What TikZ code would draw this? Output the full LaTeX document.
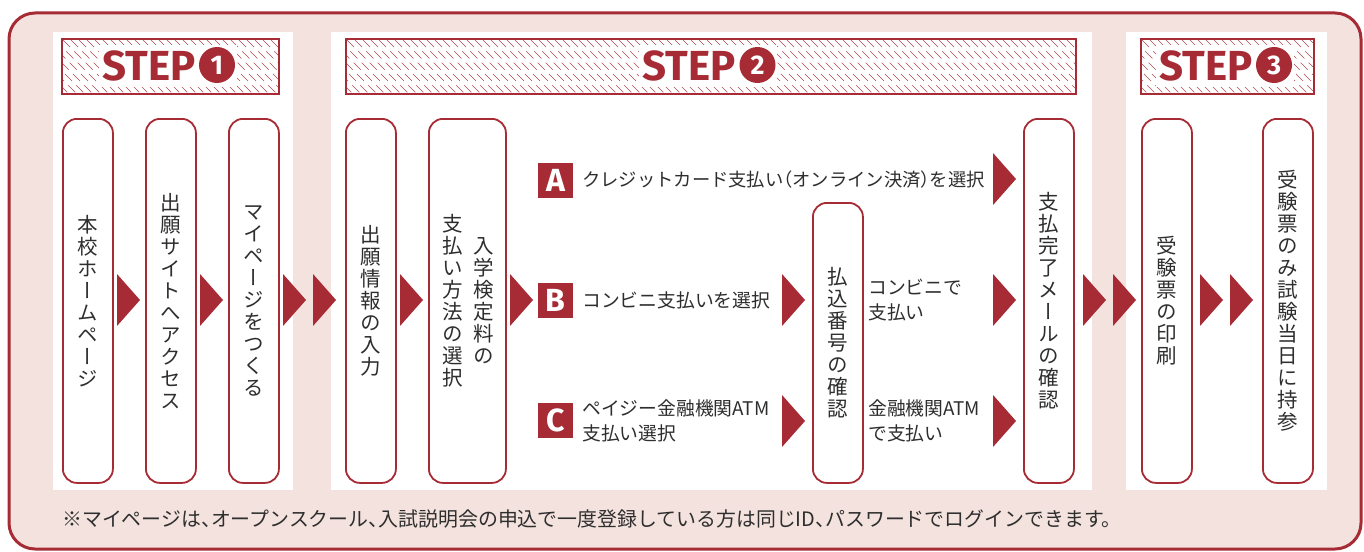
\documentclass[tikz,border=0pt]{standalone}
\usepackage{fontspec}
\newfontfamily\jp{Noto Sans CJK JP}
\newfontfamily\jpv{Noto Sans CJK JP}[RawFeature=+vert]
\newfontfamily\stepf{Fira Sans}
\definecolor{dred}{HTML}{A62B35}
\definecolor{pinkbg}{HTML}{F3E2DD}
\definecolor{tgray}{HTML}{2E2E2E}
\newcommand\lp{\makebox[0.5em][r]{（}}
\newcommand\rp{\makebox[0.5em][l]{）}}
\newcommand\tc{\makebox[0.5em][l]{、}}
\makeatletter
\newcommand\vstk[1]{\vbox{\baselineskip=22pt\lineskip=0pt\lineskiplimit=-100pt\@tfor\vc:=#1\do{\hbox to 22pt{\hss\vc\hss}}}}
\makeatother
\tikzset{
  chev/.pic={\fill[dred] (0,-26) -- (23,0) -- (0,26) -- cycle;},
  vbox/.style={draw=dred, line width=1.8pt, fill=white, rounded corners=14pt, inner sep=0pt, anchor=north west},
  vtxt/.style={inner sep=0pt, text=tgray, font=\jpv\fontsize{20.5}{22}\selectfont},
  hdr/.style={draw=dred, line width=2pt, inner sep=0pt, minimum height=55pt, anchor=north west},
  steptxt/.style={inner sep=0pt, text=dred, anchor=base west, font=\stepf\bfseries\fontsize{42}{42}\selectfont},
  stepnum/.style={circle, fill=dred, minimum size=36pt, inner sep=0pt, text=white, font=\stepf\bfseries\fontsize{27}{27}\selectfont},
  letbox/.style={fill=dred, minimum size=35pt, inner sep=0pt, text=white, font=\stepf\bfseries\fontsize{32}{32}\selectfont},
  htxt/.style={inner sep=0pt, anchor=west, text=tgray, align=left, font=\jp\fontsize{18.8}{25}\selectfont},
  hatch/.style={dred!85, line width=0.65pt, dash pattern=on 10pt off 6pt},
}
\newcommand\hatchbox[5]{% x0 y0 x1 y1 cx
  \begin{scope}
    \clip (#1,#2) rectangle (#3,#4);
    \foreach \i in {-70,-62,...,750} {\draw[hatch] (#1+\i,#2+2) -- ++(70,70);}
  \end{scope}
  \fill[white] (#5-71,45) rectangle (#5+67,87);
}
\begin{document}
\begin{tikzpicture}[x=1pt,y=-1pt]
\useasboundingbox (0,0) rectangle (1364,551);
% outer frame
\draw[dred, line width=3pt, fill=pinkbg, rounded corners=26pt] (9,13) rectangle (1361,549);
% panels
\fill[white] (53,32) rectangle (293,490);
\fill[white] (331,32) rectangle (1092,490);
\fill[white] (1126,32) rectangle (1327,490);
% headers
\hatchbox{61}{38}{278}{93}{169.5}
\hatchbox{345}{38}{1075}{93}{710}
\hatchbox{1140}{38}{1313}{93}{1226.5}
\node[hdr, minimum width=217pt] (h1) at (61,38) {};
\node[hdr, minimum width=730pt] (h2) at (345,38) {};
\node[hdr, minimum width=173pt] (h3) at (1140,38) {};
\node[steptxt] (s1) at (102,80) {STEP};
\node[stepnum] (n1) at (217,65) {1};
\node[steptxt] (s2) at (642.5,80) {STEP};
\node[stepnum] (n2) at (757.5,65) {2};
\node[steptxt] (s3) at (1159,80) {STEP};
\node[stepnum] (n3) at (1274,65) {3};
% vertical boxes
\node[vbox, minimum width=50pt, minimum height=364pt] (b1) at (62,118) {};
\node[vbox, minimum width=50pt, minimum height=364pt] (b2) at (145,118) {};
\node[vbox, minimum width=50pt, minimum height=364pt] (b3) at (228,118) {};
\node[vbox, minimum width=50pt, minimum height=364pt] (b4) at (345,118) {};
\node[vbox, minimum width=77pt, minimum height=364pt] (b5) at (428,118) {};
\node[vbox, minimum width=50pt, minimum height=280pt] (b6) at (812,202) {};
\node[vbox, minimum width=50pt, minimum height=364pt] (b7) at (1023,118) {};
\node[vbox, minimum width=50pt, minimum height=364pt] (b8) at (1141,118) {};
\node[vbox, minimum width=50pt, minimum height=364pt] (b9) at (1262,118) {};
\node[vtxt] (t1) at (b1.center) {\vstk{本校ホームページ}};
\node[vtxt] (t2) at (b2.center) {\vstk{出願サイトへアクセス}};
\node[vtxt] (t3) at (b3.center) {\vstk{マイページをつくる}};
\node[vtxt] (t4) at (b4.center) {\vstk{出願情報の入力}};
\node[vtxt] (t5a) at ([xshift=16pt]b5.center) {\vstk{入学検定料の}};
\node[vtxt] (t5b) at ([xshift=-15pt]b5.center) {\vstk{支払い方法の選択}};
\node[vtxt] (t6) at (b6.center) {\vstk{払込番号の確認}};
\node[vtxt] (t7) at (b7.center) {\vstk{支払完了メールの確認}};
\node[vtxt] (t8) at (b8.center) {\vstk{受験票の印刷}};
\node[vtxt] (t9) at (b9.center) {\vstk{受験票のみ試験当日に持参}};
% chevrons
\foreach \x in {117,200,283,313,400,510,1083,1113,1200,1230} {\pic at (\x,300) {chev};}
\pic at (993,179) {chev};
\pic at (782,300) {chev};
\pic at (993,300) {chev};
\pic at (782,421) {chev};
\pic at (993,421) {chev};
% branch rows
\node[letbox] (la) at (555.5,180) {A};
\node[letbox] (lb) at (555.5,300.5) {B};
\node[letbox] (lc) at (555.5,420.5) {C};
\node[htxt, font=\jp\fontsize{18.3}{25}\selectfont] (ta) at (582,180) {クレジットカード支払い\lp オンライン決済\rp を選択};
\node[htxt] (tb) at (582,300) {コンビニ支払いを選択};
\node[htxt] (tc) at (582,420.5) {ペイジー金融機関ATM\\支払い選択};
\node[htxt] (rb) at (868,300.5) {コンビニで\\支払い};
\node[htxt] (rc) at (868,420.5) {金融機関ATM\\で支払い};
% footnote
\node[inner sep=0pt, anchor=west, text=tgray, font=\jp\fontsize{19.9}{22}\selectfont] (note) at (62,519) {※マイページは\tc オープンスクール\tc 入試説明会の申込で一度登録している方は同じID\tc パスワードでログインできます。};
\end{tikzpicture}
\end{document}
